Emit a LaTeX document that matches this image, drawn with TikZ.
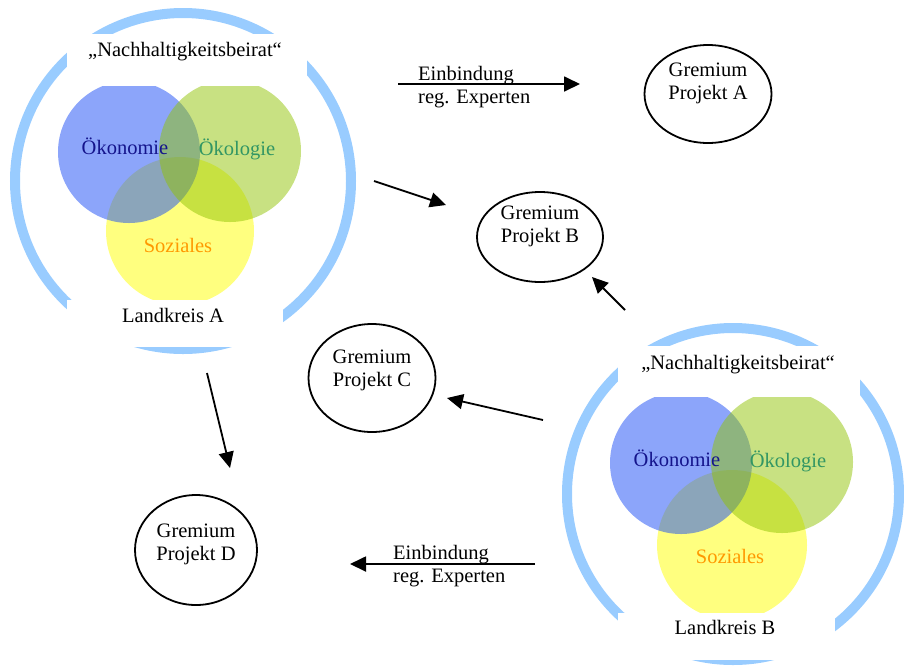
\documentclass[tikz,border=0pt]{standalone}
\usepackage{fontspec}
\setmainfont{Liberation Serif}
\usetikzlibrary{shapes.geometric,arrows.meta}
\definecolor{ringblue}{RGB}{153,204,255}
\definecolor{oekoblue}{RGB}{25,75,245}
\definecolor{oekogreen}{RGB}{145,195,5}
\definecolor{sozyellow}{RGB}{255,255,0}
\definecolor{txtblue}{RGB}{20,20,140}
\definecolor{txtgreen}{RGB}{50,150,100}
\definecolor{txtorange}{RGB}{255,153,0}
\begin{document}
\begin{tikzpicture}[x=1pt,y=-1pt,>={Triangle[length=16pt,width=15pt]}]
    \tikzstyle{ring}=[draw=ringblue,line width=10pt]
    \tikzstyle{venn}=[fill opacity=0.5]
    \tikzstyle{lbl}=[font=\fontsize{20.5}{23}\selectfont,inner sep=0pt,align=center]
    \tikzstyle{gremium}=[draw,ellipse,line width=1.8pt,inner sep=0pt]
    \tikzstyle{flow}=[->,line width=1.8pt]
    \useasboundingbox (0,0) rectangle (904,665);

    % Landkreis A
    \draw[ring] (183,181) circle (168pt);
    \fill[venn,sozyellow] (180,231) circle (74pt);
    \fill[venn,oekoblue] (129,152) circle (71pt);
    \fill[venn,oekogreen] (230,151) circle (71pt);
    \fill[white] (67,34) rectangle (307,86);
    \fill[white] (67,300) rectangle (283,347);
    \node[lbl] (beiratA) at (185,52) {„Nachhaltigkeitsbeirat“};
    \node[lbl,text=txtblue] (oekonA) at (125,146) {Ökonomie};
    \node[lbl,text=txtgreen] (oekolA) at (237,149) {Ökologie};
    \node[lbl,text=txtorange] (sozA) at (178,245) {Soziales};
    \node[lbl] (kreisA) at (173,315) {Landkreis A};

    % Landkreis B
    \draw[ring] (733,494) circle (166pt);
    \fill[venn,sozyellow] (732,545) circle (75pt);
    \fill[venn,oekoblue] (681,463) circle (71pt);
    \fill[venn,oekogreen] (782,462) circle (71pt);
    \fill[white] (618,346) rectangle (860,397);
    \fill[white] (618,613) rectangle (835,660);
    \node[lbl] (beiratB) at (738,365) {„Nachhaltigkeitsbeirat“};
    \node[lbl,text=txtblue] (oekonB) at (677,458) {Ökonomie};
    \node[lbl,text=txtgreen] (oekolB) at (788,461) {Ökologie};
    \node[lbl,text=txtorange] (sozB) at (730,556) {Soziales};
    \node[lbl] (kreisB) at (725,627) {Landkreis B};

    % Gremien
    \node[gremium,minimum width=127pt,minimum height=98pt] (gremA) at (708,94) {};
    \node[gremium,minimum width=126pt,minimum height=90pt] (gremB) at (540,237) {};
    \node[gremium,minimum width=127pt,minimum height=108pt] (gremC) at (372,378) {};
    \node[gremium,minimum width=122pt,minimum height=110pt] (gremD) at (196,550) {};
    \node[lbl] at ([yshift=11pt]gremA.center) {Gremium\\Projekt A};
    \node[lbl] at ([yshift=11pt]gremB.center) {Gremium\\Projekt B};
    \node[lbl] at ([yshift=8pt]gremC.center) {Gremium\\Projekt C};
    \node[lbl] at ([yshift=6pt]gremD.center) {Gremium\\Projekt D};

    % Pfeile
    \coordinate (einAs) at (398,84);
    \coordinate (einAe) at (580,84);
    \coordinate (einBs) at (535,564);
    \coordinate (einBe) at (350,564);
    \coordinate (toBs) at (374,181);
    \coordinate (toBe) at (446,205);
    \coordinate (fromBs) at (625,310);
    \coordinate (fromBe) at (592,277);
    \coordinate (toCs) at (543,420);
    \coordinate (toCe) at (447,398);
    \coordinate (toDs) at (207,373);
    \coordinate (toDe) at (230,468);
    \draw[flow] (einAs) -- (einAe);
    \draw[flow] (einBs) -- (einBe);
    \draw[flow] (toBs) -- (toBe);
    \draw[flow] (fromBs) -- (fromBe);
    \draw[flow] (toCs) -- (toCe);
    \draw[flow] (toDs) -- (toDe);
    \node[lbl,anchor=west,align=left] (einA) at (418,87) {Einbindung\\reg. Experten};
    \node[lbl,anchor=west,align=left] (einB) at (393,566) {Einbindung\\reg. Experten};
\end{tikzpicture}
\end{document}
